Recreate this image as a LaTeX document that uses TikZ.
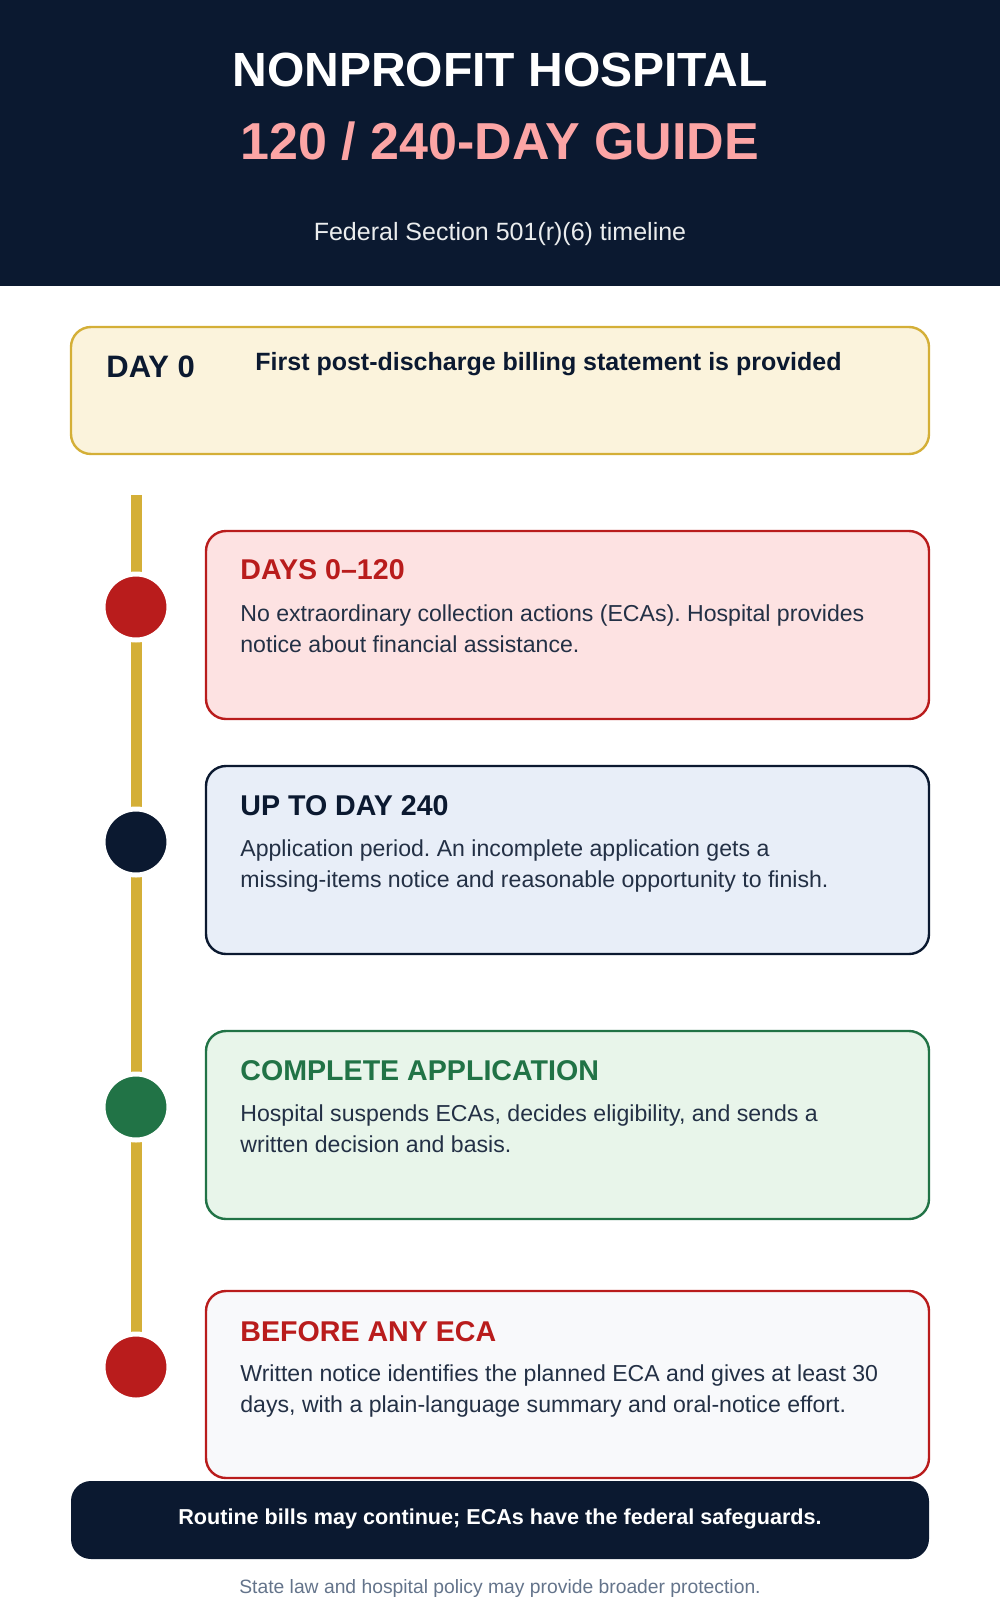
\documentclass[tikz,border=0pt]{standalone}
\usepackage{fontspec}
\setmainfont{Liberation Sans}
\frenchspacing
\begin{document}
\frenchspacing
\definecolor{navy}{HTML}{0B1930}
\definecolor{gold}{HTML}{D4AF37}
\definecolor{rd}{HTML}{B91C1C}
\definecolor{gr}{HTML}{217346}
\definecolor{pinkt}{HTML}{FCA5A5}
\definecolor{slate}{HTML}{64748B}
\begin{tikzpicture}[x=0.5pt,y=-0.5pt,
  card/.style={rounded corners=10pt,line width=1.2pt},
  ttl/.style={anchor=base west,inner sep=0,font=\fontsize{14.3}{16}\selectfont\bfseries},
  bd/.style={anchor=base west,inner sep=0,text=navy!90,font=\fontsize{11.55}{13}\selectfont},
  dot/.style={circle,minimum size=33pt,inner sep=0,draw=white,line width=2.5pt}]
\useasboundingbox (0,0) rectangle (1000,1600);
\fill[navy] (0,0) rectangle (1000,286);
\node[inner sep=0,anchor=base,text=white,font=\fontsize{24}{28}\selectfont\bfseries] (t1) at (500,87) {NONPROFIT HOSPITAL};
\node[inner sep=0,anchor=base,text=pinkt,font=\fontsize{26}{30}\selectfont\bfseries] (t2) at (500,159) {120 / 240-DAY GUIDE};
\node[inner sep=0,anchor=base,text=white!92!navy,font=\fontsize{12.5}{14}\selectfont] (t3) at (500,240) {Federal Section 501(r)(6) timeline};
% day 0
\draw[card,draw=gold,fill={rgb,255:red,251;green,243;blue,220}] (71,327) rectangle (929,454);
\node[anchor=base west,inner sep=0,text=navy,font=\fontsize{15.5}{17}\selectfont\bfseries] (d0) at (106,377) {DAY 0};
\node[anchor=base west,inner sep=0,text=navy,font=\fontsize{12.5}{14}\selectfont\bfseries] (d0t) at (255,370) {First post-discharge billing statement is provided};
% timeline
\coordinate (ltop) at (136,495);
\coordinate (lbot) at (136,1332);
\draw[gold,line width=5.5pt] (ltop) -- (lbot);
% cards
\draw[card,draw=rd,fill={rgb,255:red,253;green,226;blue,226}] (206,531) rectangle (929,719);
\node[ttl,text=rd] at (240,579) {DAYS 0–120};
\node[bd] at (240,621) {No extraordinary collection actions (ECAs). Hospital provides};
\node[bd] at (240,652) {notice about financial assistance.};
\draw[card,draw=navy,fill={rgb,255:red,232;green,238;blue,248}] (206,766) rectangle (929,954);
\node[ttl,text=navy] at (240,815) {UP TO DAY 240};
\node[bd] at (240,856) {Application period. An incomplete application gets a};
\node[bd] at (240,887) {missing-items notice and reasonable opportunity to finish.};
\draw[card,draw=gr,fill={rgb,255:red,232;green,245;blue,234}] (206,1031) rectangle (929,1219);
\node[ttl,text=gr] at (240,1080) {COMPLETE APPLICATION};
\node[bd] at (240,1121) {Hospital suspends ECAs, decides eligibility, and sends a};
\node[bd] at (240,1152) {written decision and basis.};
\draw[card,draw=rd,fill={rgb,255:red,248;green,249;blue,251}] (206,1291) rectangle (929,1478);
\node[ttl,text=rd] at (240,1341) {BEFORE ANY ECA};
\node[bd] at (240,1381) {Written notice identifies the planned ECA and gives at least 30};
\node[bd] at (240,1412) {days, with a plain-language summary and oral-notice effort.};
% dots
\node[dot,fill=rd] (c1) at (136,607) {};
\node[dot,fill=navy] (c2) at (136,842) {};
\node[dot,fill=gr] (c3) at (136,1107) {};
\node[dot,fill=rd] (c4) at (136,1367) {};
% footer
\fill[navy,rounded corners=10pt] (71,1481) rectangle (929,1559);
\node[inner sep=0,anchor=base,text=white,font=\fontsize{10.8}{13}\selectfont\bfseries] (ft) at (500,1524) {Routine bills may continue; ECAs have the federal safeguards.};
\node[inner sep=0,anchor=base,text=slate,font=\fontsize{9.65}{11}\selectfont] (fn) at (500,1593) {State law and hospital policy may provide broader protection.};
\end{tikzpicture}
\end{document}
